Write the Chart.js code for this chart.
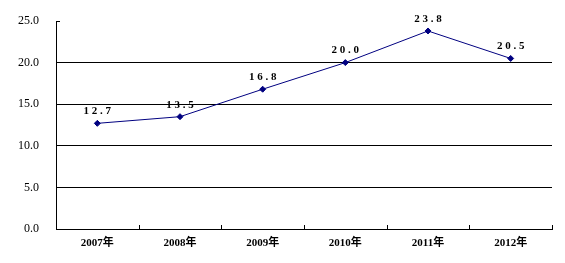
<!DOCTYPE html>
<html><head><meta charset="utf-8">
<script src="https://cdn.jsdelivr.net/npm/chart.js@4/dist/chart.umd.min.js"></script>
<style>html,body{margin:0;padding:0;background:#fff}#wrap{width:565px;height:263px}</style>
</head><body><div id="wrap"><canvas id="c" width="565" height="263"></canvas></div>
<script>
const categories = ["2007年","2008年","2009年","2010年","2011年","2012年"];
const values = [12.7, 13.5, 16.8, 20.0, 23.8, 20.5];
const yTicks = [0, 5, 10, 15, 20, 25];

const labelPlugin = {
  id: 'labels',
  afterDatasetsDraw(chart) {
    const ctx = chart.ctx;
    const meta = chart.getDatasetMeta(0);
    ctx.save();
    ctx.font = 'bold 11px "Liberation Serif", "DejaVu Serif", serif';
    ctx.fillStyle = '#000';
    ctx.textAlign = 'center';
    ctx.textBaseline = 'middle';
    meta.data.forEach((pt, i) => {
      const t = values[i].toFixed(1).split('').join(' ');
      ctx.fillText(t, pt.x, pt.y - 12);
    });
    ctx.restore();
  }
};
const tickPlugin = {
  id: 'innerTicks',
  afterDraw(chart) {
    const ctx = chart.ctx;
    const xs = chart.scales.x, ys = chart.scales.y;
    ctx.save();
    ctx.strokeStyle = '#000';
    ctx.lineWidth = 1;
    ctx.beginPath();
    const n = categories.length;
    for (let i = 0; i <= n; i++) {
      const x = Math.round(xs.left + (xs.right - xs.left) * i / n) + 0.5;
      ctx.moveTo(x, ys.bottom);
      ctx.lineTo(x, ys.bottom - 4);
    }
    const yt = Math.round(ys.getPixelForValue(25)) + 0.5;
    ctx.moveTo(xs.left, yt);
    ctx.lineTo(xs.left + 4, yt);
    ctx.stroke();
    ctx.restore();
  }
};

new Chart(document.getElementById('c'), {
  type: 'line',
  data: {
    labels: categories,
    datasets: [{
      data: values,
      borderColor: '#000080',
      backgroundColor: '#000080',
      borderWidth: 1,
      pointStyle: 'rectRot',
      pointRadius: 3,
      pointBorderWidth: 1,
      tension: 0
    }]
  },
  options: {
    responsive: false,
    animation: false,
    layout: { padding: { left: 0, right: 13, top: 21, bottom: 0 } },
    plugins: { legend: { display: false }, tooltip: { enabled: false } },
    scales: {
      x: {
        offset: true,
        grid: { display: false, drawTicks: false },
        border: { display: true, color: '#000', width: 1 },
        ticks: { padding: 8, color: '#000', font: { family: '"Liberation Serif", "Noto Sans CJK SC", serif', size: 11, weight: 'bold' } },
        afterFit(s) { s.height = 34; s.paddingLeft = 0; s.paddingRight = 0; }
      },
      y: {
        min: 0, max: 25,
        afterBuildTicks(s) { s.ticks = yTicks.map(v => ({ value: v })); },
        grid: { color: ctx => (ctx.tick && ctx.tick.value === 25) ? 'rgba(0,0,0,0)' : '#000', drawTicks: false, lineWidth: 1 },
        border: { display: true, color: '#000', width: 1 },
        ticks: { padding: 17, color: '#000', font: { family: '"Liberation Serif", "DejaVu Serif", serif', size: 12 }, callback: v => Number(v).toFixed(1) },
        afterFit(s) { s.width = 56; s.paddingTop = 0; s.paddingBottom = 0; }
      }
    }
  },
  plugins: [labelPlugin, tickPlugin]
});
</script>
</body></html>
